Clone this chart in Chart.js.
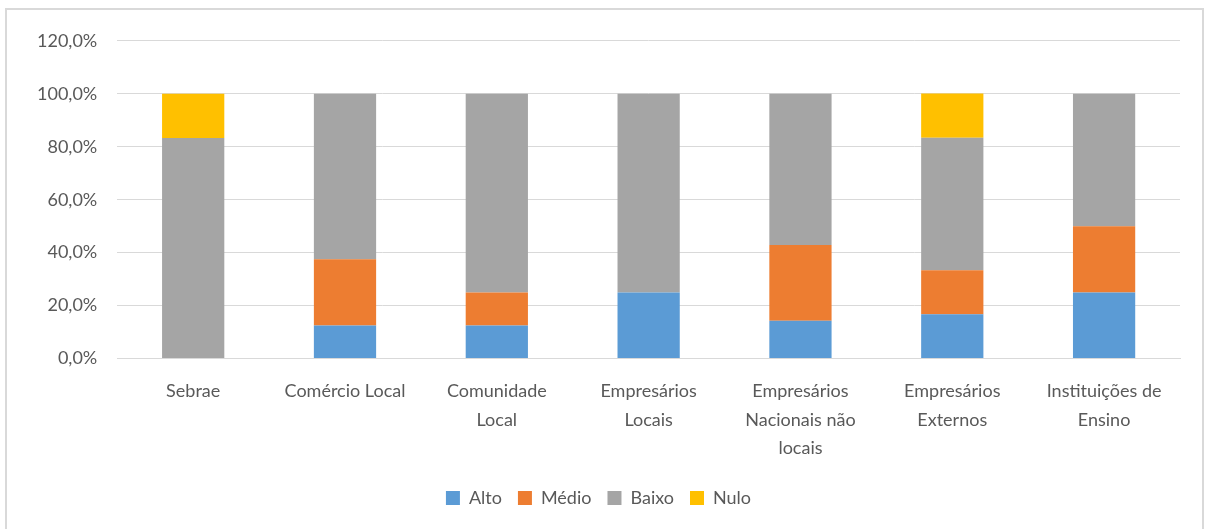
<!DOCTYPE html>
<html>
<head>
<meta charset="utf-8">
<script src="https://cdn.jsdelivr.net/npm/chart.js@4"></script>
<style>
    body { margin: 0; background: #fff; }
    #frame {
        position: absolute; left: 5px; top: 8px; width: 1199px; height: 530px;
        border: 2px solid #d9d9d9; box-sizing: border-box; background: #fff;
    }
    #wrap { position: absolute; left: 0; top: 0; width: 1195px; height: 516px; }
</style>
</head>
<body>
<div id="frame"><div id="wrap"><canvas id="chart"></canvas></div></div>
<script>
// categories and shares per level (fractions of 1)
let categories = [
    'Sebrae',
    'Comércio Local',
    ['Comunidade', 'Local'],
    ['Empresários', 'Locais'],
    ['Empresários', 'Nacionais não', 'locais'],
    ['Empresários', 'Externos'],
    ['Instituições de', 'Ensino']
];
let alto  = [0, 0.125, 0.125, 0.25, 0.143, 0.167, 0.25];
let medio = [0, 0.25, 0.125, 0, 0.286, 0.167, 0.25];
let baixo = [0.833, 0.625, 0.75, 0.75, 0.571, 0.50, 0.50];
let nulo  = [0.167, 0, 0, 0, 0, 0.167, 0];
let yTicks = [0, 0.2, 0.4, 0.6, 0.8, 1.0, 1.2];

function pct(v) {
    return (v * 100).toFixed(1).replace('.', ',') + '%';
}

let font = { family: 'Lato, "Open Sans", sans-serif', size: 18 };

let ctx = document.getElementById('chart').getContext('2d');
new Chart(ctx, {
    type: 'bar',
    data: {
        labels: categories,
        datasets: [
            { label: 'Alto', data: alto, backgroundColor: '#5b9bd5' },
            { label: 'Médio', data: medio, backgroundColor: '#ed7d31' },
            { label: 'Baixo', data: baixo, backgroundColor: '#a5a5a5' },
            { label: 'Nulo', data: nulo, backgroundColor: '#ffc000' }
        ]
    },
    options: {
        responsive: true,
        maintainAspectRatio: false,
        animation: false,
        layout: { padding: { left: 10, right: 22, top: 14, bottom: 9 } },
        datasets: { bar: { categoryPercentage: 1, barPercentage: 0.41 } },
        scales: {
            x: {
                stacked: true,
                grid: { display: false },
                border: { color: '#d9d9d9', width: 1 },
                ticks: {
                    color: '#595959', font: { ...font, lineHeight: 1.6 },
                    maxRotation: 0, autoSkip: false, padding: 10
                }
            },
            y: {
                stacked: true,
                min: 0,
                max: 1.2,
                afterBuildTicks: axis => { axis.ticks = yTicks.map(v => ({ value: v })); },
                grid: { color: '#d9d9d9', drawTicks: false },
                border: { display: false },
                ticks: { color: '#595959', font: font, padding: 20, callback: v => pct(v) }
            }
        },
        plugins: {
            legend: {
                position: 'bottom',
                labels: { color: '#595959', font: font, boxWidth: 14, boxHeight: 14, padding: 16 }
            },
            tooltip: { enabled: false }
        }
    }
});
</script>
</body>
</html>
